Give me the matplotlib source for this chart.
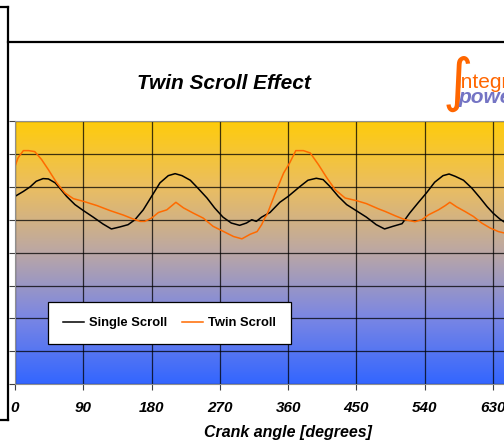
import numpy as np
import matplotlib.pyplot as plt
from matplotlib.colors import LinearSegmentedColormap
from matplotlib.lines import Line2D

# crank angle [deg] and traces (arbitrary units, grid step = 1)
angle_single = [0, 11, 20, 28, 37, 44, 53, 59, 68, 79, 90, 103, 116, 127, 138, 149,
                158, 169, 180, 191, 202, 211, 220, 231, 241, 253, 263, 274, 285, 296,
                305, 312, 318, 325, 336, 349, 360, 375, 386, 397, 406, 415, 426, 437,
                450, 463, 476, 487, 498, 510, 520, 531, 542, 553, 564, 572, 580, 591,
                602, 613, 622, 630, 639, 648]
single_scroll = [5.71, 5.86, 6.00, 6.17, 6.25, 6.24, 6.12, 5.96, 5.71, 5.46, 5.28, 5.08,
                 4.87, 4.72, 4.78, 4.85, 5.00, 5.30, 5.71, 6.12, 6.34, 6.40, 6.34, 6.20,
                 5.96, 5.66, 5.36, 5.08, 4.90, 4.83, 4.90, 5.00, 4.95, 5.08, 5.22, 5.53,
                 5.71, 6.00, 6.20, 6.26, 6.22, 6.01, 5.71, 5.46, 5.27, 5.08, 4.85, 4.72,
                 4.80, 4.88, 5.20, 5.51, 5.81, 6.14, 6.34, 6.39, 6.32, 6.20, 5.96, 5.66,
                 5.40, 5.20, 5.02, 4.88]

angle_twin = [0, 4, 11, 18, 26, 35, 44, 55, 66, 77, 90, 108, 125, 143, 156, 165, 171,
              180, 189, 200, 212, 222, 235, 248, 261, 275, 288, 299, 310, 319, 325, 329,
              332, 343, 354, 362, 370, 380, 389, 400, 411, 422, 435, 450, 463, 479, 488,
              501, 514, 527, 536, 545, 558, 567, 573, 582, 593, 604, 615, 626, 637, 648]
twin_scroll = [6.62, 6.88, 7.10, 7.10, 7.07, 6.83, 6.52, 6.12, 5.81, 5.64, 5.56, 5.43,
               5.28, 5.14, 5.02, 4.95, 4.95, 5.05, 5.22, 5.30, 5.53, 5.36, 5.20, 5.05,
               4.80, 4.64, 4.49, 4.42, 4.56, 4.64, 4.85, 5.05, 5.15, 5.81, 6.42, 6.73,
               7.10, 7.10, 7.03, 6.67, 6.27, 5.91, 5.66, 5.58, 5.49, 5.33, 5.25, 5.12,
               5.00, 4.94, 5.00, 5.15, 5.30, 5.43, 5.53, 5.39, 5.25, 5.10, 4.90, 4.75,
               4.64, 4.58]

W, H = 504, 448
fig = plt.figure(figsize=(W / 100, H / 100), dpi=100)

def px(x, y):
    return x / W, 1 - y / H

# outer frame pieces of the cropped sheet
for (x0, y0), (x1, y1) in [((0, 7), (8, 7)), ((8, 7), (8, 420)), ((0, 420), (8, 420)),
                           ((8, 42), (504, 42))]:
    a, b = px(x0, y0)
    c, d = px(x1, y1)
    fig.add_artist(Line2D([a, c], [b, d], color='black', lw=1.6,
                          transform=fig.transFigure, solid_capstyle='projecting'))

left, top, bottom = 15, 121, 384.3
right = left + 8 * 68.3
ax = fig.add_axes([left / W, 1 - bottom / H, (right - left) / W, (bottom - top) / H])

grad = LinearSegmentedColormap.from_list('bg', ['#FFCC0A', '#EBBE60', '#BBA7A4',
                                                '#7A86E4', '#3366FF'])
ax.imshow(np.linspace(0, 1, 256).reshape(-1, 1), cmap=grad, aspect='auto',
          extent=[0, 720, 0, 8], origin='upper', zorder=0)

ax.plot(angle_single, single_scroll, color='black', lw=1.1, label='Single Scroll')
ax.plot(angle_twin, twin_scroll, color='#FF6A00', lw=1.1, label='Twin Scroll')

ax.set_xlim(0, 720)
ax.set_ylim(0, 8)
ax.set_xticks(range(0, 721, 90))
ax.set_yticks(range(0, 9))
ax.set_yticklabels([])
ax.grid(True, color='black', lw=0.9, alpha=0.75)
for s in ax.spines.values():
    s.set_color('#909090')
    s.set_linewidth(0.8)
ax.tick_params(axis='both', direction='out', length=4, width=0.8, color='#404040')
ax.tick_params(axis='x', pad=8)
for t in ax.get_xticklabels():
    t.set_fontfamily('Liberation Sans')
    t.set_fontweight('bold')
    t.set_fontstyle('italic')
    t.set_fontsize(11)
ax.set_xlabel('Crank angle [degrees]', family='Liberation Sans', weight='bold',
              style='italic', fontsize=11.5, labelpad=7)

fig.text(224 / W, 1 - 83 / H, 'Twin Scroll Effect', family='Liberation Sans',
         weight='bold', style='italic', fontsize=15, ha='center', va='center')

# logo at the right edge, cut off by the crop as in the source
fig.text(458 / W, 1 - 84 / H, '\u222b', color='#FF6600', fontsize=42,
         ha='center', va='center', family='DejaVu Sans', style='italic')
fig.text(457 / W, 1 - 82 / H, 'integral', color='#FF6600', fontsize=15,
         ha='left', va='center', family='Liberation Sans', stretch='condensed')
fig.text(458 / W, 1 - 97 / H, 'power', color='#7474C4', fontsize=15, weight='bold',
         style='italic', ha='left', va='center', family='Liberation Sans')

leg = ax.legend(loc='upper left', bbox_to_anchor=px(48, 302),
                bbox_transform=fig.transFigure, ncol=2, frameon=True, fancybox=False,
                edgecolor='black', framealpha=1, handlelength=1.6, handletextpad=0.4,
                columnspacing=1.1, borderpad=1.15, borderaxespad=0,
                prop={'family': 'Liberation Sans', 'weight': 'bold', 'size': 9.4})
leg.get_frame().set_linewidth(0.9)

fig.savefig('out.png', dpi=100)
